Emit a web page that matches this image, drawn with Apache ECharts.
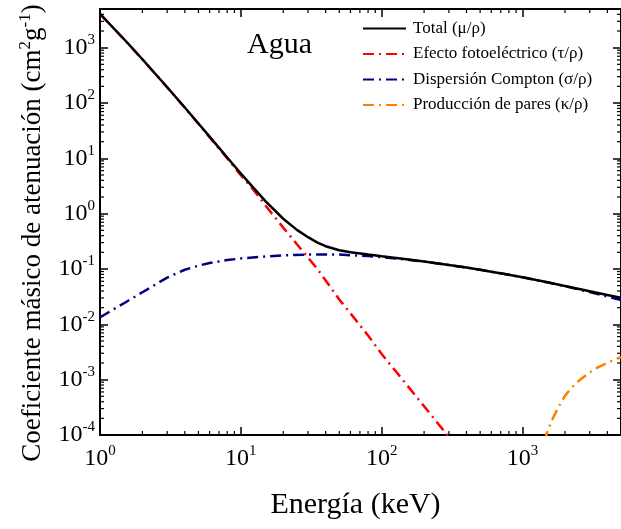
<!DOCTYPE html>
<html><head><meta charset="utf-8">
<script src="https://cdn.jsdelivr.net/npm/echarts@6/dist/echarts.min.js"></script>
<style>html,body{margin:0;padding:0;background:#fff}#c{width:621px;height:529px}</style>
</head><body><div id="c"></div>
<script>
// ---- data ----
const energyTotal = [1,1.5,2,3,4,5,6,8,10,12,15,20,25,30,35,40,50,60,80,100,150,200,300,400,500,600,800,1000,1250,1500,2000,3000,4000,5000];
const total = [4078,1376,617.3,192.9,82.78,42.58,24.64,10.37,5.329,3.15,1.673,0.8096,0.51,0.3756,0.30,0.258,0.218,0.201,0.182,0.170,0.1505,0.137,0.1186,0.1061,0.09687,0.08956,0.07865,0.07072,0.06323,0.05754,0.04942,0.03969,0.03403,0.03031];
const energyPhoto = [1,1.5,2,3,4,5,6,8,10,12,15,20,25,30,35,40,50,60,80,100,150,200,300];
const photo = [4076,1374,615,192,82,42,24,10,4.94,2.9,1.39,0.56,0.28,0.16,0.1,0.062,0.028,0.0158,0.0063,0.0029,0.00082,0.00033,0.000092];
const energyCompton = [1,1.5,2,3,4,5,6,8,10,15,20,30,40,50,60,80,100,150,200,300,400,500,600,800,1000,1250,1500,2000,3000,4000,5000];
const compton = [0.0134,0.0246,0.038,0.070,0.097,0.115,0.128,0.145,0.155,0.168,0.176,0.182,0.183,0.182,0.178,0.171,0.164,0.148,0.136,0.118,0.106,0.0968,0.0895,0.0786,0.0707,0.0632,0.0574,0.0489,0.0382,0.0317,0.0275];
const energyPair = [1300,1400,1500,1600,1800,2000,2200,2400,2600,3000,3400,4000,4500,5000];
const pair = [0.00003,0.00006,0.000115,0.000175,0.00032,0.00051,0.00069,0.00086,0.00103,0.00135,0.00165,0.00202,0.0023,0.00255];

const seriesNames = ['Total (\u03bc/\u03c1)','Efecto fotoel\u00e9ctrico (\u03c4/\u03c1)','Dispersi\u00f3n Compton (\u03c3/\u03c1)','Producci\u00f3n de pares (\u03ba/\u03c1)'];
const xTickExponents = [0,1,2,3];
const yTickExponents = [-4,-3,-2,-1,0,1,2,3];
const xMin = 1, xMax = 5000, yMin = 1e-4, yMax = 5000;
const minorMultiples = [2,3,4,5,6,7,8,9];

function pairs(xs, ys){ return xs.map((x,i)=>[x, ys[i]]); }
function supLabel(exps){
  return function(v){
    const e = Math.round(Math.log10(v));
    if (Math.abs(Math.log10(v) - e) > 1e-6 || exps.indexOf(e) < 0) return '';
    return '{b|10}{s|' + e + '}';
  };
}
const minorData = [];
xTickExponents.forEach(e=>minorMultiples.forEach(m=>{const v=m*Math.pow(10,e); if(v<xMax) minorData.push([v,1,0]);}));
yTickExponents.forEach(e=>minorMultiples.forEach(m=>{const v=m*Math.pow(10,e); if(v>yMin && v<yMax) minorData.push([1,v,1]);}));

const serif = 'Liberation Serif';
const labelRich = {
  b:{fontSize:24, fontFamily:serif, color:'#000'},
  s:{fontSize:15, fontFamily:serif, color:'#000', padding:[0,0,15,0]}
};
const axisCommon = {
  type:'log', logBase:10,
  axisLine:{show:true, onZero:false, lineStyle:{color:'#000', width:2}},
  axisTick:{show:true, inside:true, length:8, lineStyle:{color:'#000', width:1.5}},
  splitLine:{show:false}, minorTick:{show:false}, minorSplitLine:{show:false}
};
const dashDot = [11,5,2,5];

const chart = echarts.init(document.getElementById('c'));
chart.setOption({
  animation:false,
  backgroundColor:'#fff',
  grid:{left:100, top:9, width:530, height:426, containLabel:false},
  title:{text:'Agua', left:242, top:25, textStyle:{fontFamily:serif, fontSize:30, fontWeight:'normal', color:'#000'}},
  legend:{
    data:seriesNames, orient:'vertical', left:362, top:20, padding:0,
    itemWidth:43, itemHeight:14, itemGap:8.5,
    itemStyle:{opacity:0},
    textStyle:{fontFamily:serif, fontSize:17, color:'#000', padding:[0,0,0,2]}
  },
  xAxis:[
    Object.assign({}, axisCommon, {position:'bottom', min:xMin, max:xMax,
      axisLabel:{show:true, margin:9, formatter:supLabel(xTickExponents), rich:labelRich, showMaxLabel:false},
      name:'Energ\u00eda (keV)', nameLocation:'middle', nameGap:55,
      nameTextStyle:{fontFamily:serif, fontSize:30, color:'#000', padding:[0,10,0,0]}}),
    Object.assign({}, axisCommon, {position:'top', min:xMin, max:xMax, axisLabel:{show:false}})
  ],
  yAxis:[
    Object.assign({}, axisCommon, {position:'left', min:yMin, max:yMax,
      axisLabel:{show:true, margin:5, formatter:supLabel(yTickExponents), rich:labelRich, showMaxLabel:false},
      name:'Coeficiente m\u00e1sico de atenuaci\u00f3n (cm{s|2}g{s|-1})', nameLocation:'middle', nameGap:52,
      nameTextStyle:{fontFamily:serif, fontSize:27, color:'#000', padding:[0,22,0,0],
        rich:{s:{fontFamily:serif, fontSize:17, color:'#000', padding:[0,0,14,0]}}}}),
    Object.assign({}, axisCommon, {position:'right', min:yMin, max:yMax, axisLabel:{show:false}})
  ],
  series:[
    {name:seriesNames[1], type:'line', data:pairs(energyPhoto, photo), showSymbol:false, symbol:'none', z:3,
      lineStyle:{color:'#ff0000', width:2.5, type:dashDot}, itemStyle:{color:'#ff0000'}},
    {name:seriesNames[2], type:'line', data:pairs(energyCompton, compton), showSymbol:false, symbol:'none', z:3,
      lineStyle:{color:'#000080', width:2.5, type:dashDot}, itemStyle:{color:'#000080'}},
    {name:seriesNames[3], type:'line', data:pairs(energyPair, pair), showSymbol:false, symbol:'none', z:3,
      lineStyle:{color:'#ff8000', width:2.5, type:dashDot}, itemStyle:{color:'#ff8000'}},
    {name:seriesNames[0], type:'line', data:pairs(energyTotal, total), showSymbol:false, symbol:'none', z:4,
      lineStyle:{color:'#000000', width:2.5}, itemStyle:{color:'#000000'}},
    {name:'minorTicks', type:'custom', silent:true, z:5, data:minorData, encode:{x:0, y:1},
      renderItem:function(params, api){
        const cs = params.coordSys, L = 4, st = {stroke:'#000', lineWidth:1.2};
        if (api.value(2) === 0){
          const px = api.coord([api.value(0), 1])[0];
          return {type:'group', children:[
            {type:'line', shape:{x1:px, y1:cs.y+cs.height, x2:px, y2:cs.y+cs.height-L}, style:st},
            {type:'line', shape:{x1:px, y1:cs.y, x2:px, y2:cs.y+L}, style:st}]};
        }
        const py = api.coord([1, api.value(1)])[1];
        return {type:'group', children:[
          {type:'line', shape:{x1:cs.x, y1:py, x2:cs.x+L, y2:py}, style:st},
          {type:'line', shape:{x1:cs.x+cs.width, y1:py, x2:cs.x+cs.width-L, y2:py}, style:st}]};
      }}
  ]
});
</script></body></html>
